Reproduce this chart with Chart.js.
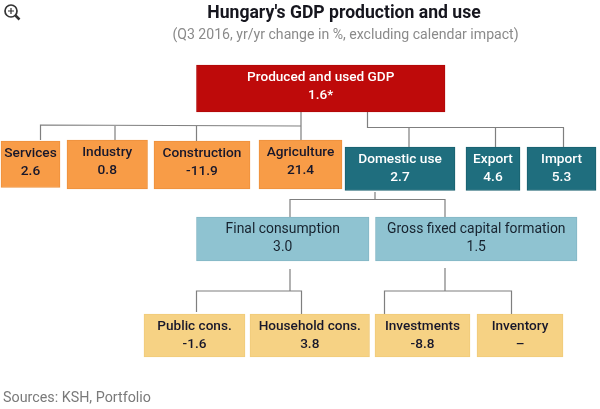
<!DOCTYPE html>
<html>
<head>
<meta charset="utf-8">
<style>
html,body{margin:0;padding:0;background:#fff}
#wrap{width:600px;height:409px}
</style>
<script src="https://cdn.jsdelivr.net/npm/chart.js@4"></script>
</head>
<body>
<div id="wrap"><canvas id="c" width="600" height="409"></canvas></div>
<script>
// ── data ──
const titleText="Hungary's GDP production and use";
const subtitleText='(Q3 2016, yr/yr change in %, excluding calendar impact)';
const sourceText='Sources: KSH, Portfolio';
const categories=['Produced and used GDP','Services','Industry','Construction','Agriculture','Domestic use','Export','Import','Final consumption','Gross fixed capital formation','Public cons.','Household cons.','Investments','Inventory'];
const values=['1.6*','2.6','0.8','-11.9','21.4','2.7','4.6','5.3','3.0','1.5','-1.6','3.8','-8.8','\u2013'];

// ── layout: one row per box, same order as categories: left,right,top,bottom,style ──
const boxLayout=[
  [196.5,445,65,112,'red'],
  [1,60,141,187.5,'orange'],[67,147.5,140,189,'orange'],[154,250,141,189,'orange'],[259,342,140,189,'orange'],
  [345,455,147,190.5,'teal'],[466,520,147,190.5,'teal'],[527,596,147,190.5,'teal'],
  [196.5,369,217,261,'blue'],[375.5,577,217,261,'blue'],
  [144,245,314,357,'yellow'],[250,369.5,314,357,'yellow'],[375,470,314,357,'yellow'],[477,563,314,357,'yellow']
];
const boxStyle={
  red:{fill:'#BE0A0A',edge:'#B00808',text:'#FFFFFF',font:'500 13.6px Roboto'},
  orange:{fill:'#F89C47',edge:'#EE913C',text:'#17172B',font:'500 13.7px Roboto'},
  teal:{fill:'#1F6E7E',edge:'#19616F',text:'#FFFFFF',font:'500 13.7px Roboto'},
  blue:{fill:'#8FC3D1',edge:'#84B7C5',text:'#17232F',font:'400 13.9px Roboto'},
  yellow:{fill:'#F6D284',edge:'#F0CB7A',text:'#17172B',font:'500 13.6px Roboto'}
};
const connectors=[
  [[40.5,140],[40.5,125],[301,126]],[[115,140],[115,126]],[[196.5,141],[196.5,126]],[[301,112],[301,140]],
  [[367.5,112],[367.5,127.5],[564,127.5]],[[409,127.5],[409,147]],[[495.5,127.5],[495.5,147]],[[563.5,127.5],[563.5,147]],
  [[375,192],[375,199.5]],[[290,217],[290,199.5],[445,199.5],[445,217]],
  [[290,269],[290,291]],[[196.5,312],[196.5,291],[301.5,291],[301.5,314]],
  [[445,268],[445,291]],[[384.5,314],[384.5,291],[511.5,291],[511.5,314]]
];

const lineSets=connectors.map(pts=>({
  type:'line',data:pts.map(p=>({x:p[0],y:p[1]})),borderColor:'#7F7F7F',borderWidth:1.2,
  pointRadius:0,tension:0,fill:false,order:2
}));
const boxSets=boxLayout.map((b,i)=>{
  const st=boxStyle[b[4]];
  return {type:'bar',label:categories[i],data:[{x:(b[0]+b[1])/2,y:[b[2],b[3]]}],barThickness:b[1]-b[0],grouped:false,
    backgroundColor:st.fill,borderColor:st.edge,borderWidth:1,borderSkipped:false,order:1};
});

// box captions, title block and the magnifier icon
const textPlugin={
  id:'textPlugin',
  afterDatasetsDraw(chart){
    const ctx=chart.ctx,xs=chart.scales.x,ys=chart.scales.y;
    ctx.save();
    ctx.textAlign='center'; ctx.textBaseline='middle';
    boxLayout.forEach((b,i)=>{
      const st=boxStyle[b[4]],cx=xs.getPixelForValue((b[0]+b[1])/2),top=ys.getPixelForValue(b[2]);
      ctx.fillStyle=st.text;
      ctx.font=st.font;
      ctx.fillText(categories[i],cx,top+12.5);
      ctx.fillText(values[i],cx,top+30.5);
    });
    ctx.fillStyle='#16161E'; ctx.font='700 17.6px Roboto';
    ctx.fillText(titleText,344,13.5);
    ctx.fillStyle='#8A8A8A'; ctx.font='400 14.1px Roboto';
    ctx.fillText(subtitleText,345.5,35.5);
    ctx.textAlign='left';
    ctx.fillStyle='#7A7A7A'; ctx.font='400 14.3px Roboto';
    ctx.fillText(sourceText,3,398.5);
    // magnifier
    ctx.strokeStyle='#333333'; ctx.lineWidth=1.7;
    ctx.beginPath(); ctx.arc(11,11,6,0,Math.PI*2); ctx.stroke();
    ctx.lineWidth=2.5;
    ctx.beginPath(); ctx.moveTo(15.5,15.5); ctx.lineTo(19.5,19.5); ctx.stroke();
    ctx.lineWidth=1.2;
    ctx.beginPath(); ctx.moveTo(8,11); ctx.lineTo(14,11); ctx.moveTo(11,8); ctx.lineTo(11,14); ctx.stroke();
    ctx.restore();
  }
};

new Chart(document.getElementById('c').getContext('2d'),{
  type:'bar',
  data:{datasets:[...lineSets,...boxSets]},
  options:{
    responsive:false,animation:false,devicePixelRatio:1,
    layout:{padding:0},
    plugins:{legend:{display:false},tooltip:{enabled:false},title:{display:false}},
    scales:{
      x:{type:'linear',min:0,max:600,offset:false,display:false},
      y:{type:'linear',min:0,max:409,reverse:true,display:false}
    }
  },
  plugins:[textPlugin]
});
</script>
</body>
</html>
